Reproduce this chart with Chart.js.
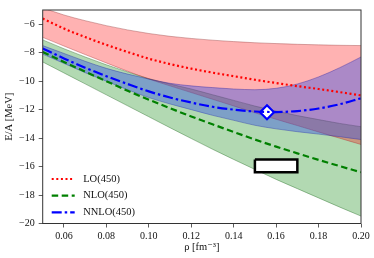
<!DOCTYPE html>
<html>
<head>
<meta charset="utf-8">
<script src="https://cdn.jsdelivr.net/npm/chart.js@4"></script>
<style>
  html, body { margin: 0; padding: 0; background: #fff; }
</style>
</head>
<body>
<canvas id="myChart" width="374" height="258"></canvas>
<script>
// density grid (fm^-3) and energies per particle (MeV)
let rho = [0.05, 0.06, 0.07, 0.08, 0.09, 0.10, 0.11, 0.12, 0.13, 0.14, 0.15, 0.16, 0.17, 0.18, 0.19, 0.20];

let loCentral = [-5.6, -6.3, -6.9, -7.45, -7.95, -8.42, -8.8, -9.12, -9.4, -9.65, -9.9, -10.13, -10.35, -10.55, -10.77, -11.0];
let loUpper = [-4.85, -5.35, -5.75, -6.1, -6.4, -6.65, -6.85, -7.0, -7.12, -7.22, -7.3, -7.36, -7.41, -7.45, -7.48, -7.5];
let loLower = [-6.92, -7.53, -8.13, -8.72, -9.3, -9.85, -10.33, -10.8, -11.27, -11.74, -12.22, -12.68, -13.12, -13.57, -14.01, -14.45];

let nloCentral = [-7.95, -8.65, -9.33, -10.0, -10.67, -11.3, -11.9, -12.48, -13.03, -13.57, -14.1, -14.6, -15.07, -15.53, -15.97, -16.4];
let nloUpper = [-7.1, -7.72, -8.3, -8.85, -9.35, -9.82, -10.2, -10.55, -10.95, -11.35, -11.75, -12.1, -12.42, -12.7, -12.97, -13.2];
let nloLower = [-8.65, -9.42, -10.19, -10.96, -11.73, -12.5, -13.27, -14.03, -14.78, -15.5, -16.2, -16.9, -17.55, -18.2, -18.85, -19.48];

let nnloCentral = [-7.7, -8.4, -9.05, -9.65, -10.2, -10.72, -11.15, -11.5, -11.8, -12.0, -12.13, -12.17, -12.1, -11.92, -11.62, -11.2];
let nnloUpper = [-7.5, -8.05, -8.6, -9.1, -9.5, -9.85, -10.15, -10.33, -10.45, -10.55, -10.6, -10.5, -10.2, -9.7, -9.05, -8.3];
let nnloLower = [-8.1, -8.75, -9.4, -10.0, -10.6, -11.15, -11.6, -12.0, -12.4, -12.75, -13.1, -13.35, -13.55, -13.72, -13.9, -14.1];

// NNLO saturation point and empirical saturation box
let satRho = [0.1557];
let satE = [-12.18];
let boxRho = [0.15, 0.17, 0.17, 0.15, 0.15];
let boxE = [-15.5, -15.5, -16.4, -16.4, -15.5];

let xTicks = [0.06, 0.08, 0.10, 0.12, 0.14, 0.16, 0.18, 0.20];
let yTicks = [-6, -8, -10, -12, -14, -16, -18, -20];

function pts(xs, ys) {
    return xs.map((x, i) => ({ x: x, y: ys[i] }));
}

let serif = "'Liberation Serif', 'DejaVu Serif', serif";
Chart.defaults.font.family = serif;
Chart.defaults.color = '#111';

let curve = {
    fill: false,
    pointRadius: 0,
    tension: 0.4,
    cubicInterpolationMode: 'monotone'
};

let datasets = [
    Object.assign({ label: 'LO(450)', data: pts(rho, loCentral), borderColor: '#ff0000', borderWidth: 2.2, borderDash: [2, 2.6] }, curve),
    Object.assign({ label: 'NLO(450)', data: pts(rho, nloCentral), borderColor: '#008000', borderWidth: 2.2, borderDash: [6.5, 3.5] }, curve),
    Object.assign({ label: 'NNLO(450)', data: pts(rho, nnloCentral), borderColor: '#0000ff', borderWidth: 2.2, borderDash: [10, 3, 2.5, 3] }, curve),
    {
        label: 'sat', data: pts(satRho, satE), showLine: false,
        pointStyle: 'rectRot', pointRadius: 7, pointBackgroundColor: '#fff',
        pointBorderColor: '#0000ff', pointBorderWidth: 2.2
    },
    {
        label: 'box', data: pts(boxRho, boxE), tension: 0, pointRadius: 0,
        fill: 'shape', backgroundColor: '#fff', borderColor: '#000', borderWidth: 2.5
    },
    // bands: upper edge fills to the lower edge listed right after it
    Object.assign({ label: 'nnloUp', data: pts(rho, nnloUpper), backgroundColor: 'rgba(45,75,230,0.4)', borderColor: 'rgba(0,0,150,0.4)', borderWidth: 0.8 }, curve, { fill: '+1' }),
    Object.assign({ label: 'nnloLo', data: pts(rho, nnloLower), borderColor: 'rgba(0,0,150,0.4)', borderWidth: 0.8 }, curve),
    Object.assign({ label: 'loUp', data: pts(rho, loUpper), backgroundColor: 'rgba(255,0,0,0.3)', borderColor: 'rgba(150,60,60,0.5)', borderWidth: 0.8 }, curve, { fill: '+1' }),
    Object.assign({ label: 'loLo', data: pts(rho, loLower), borderColor: 'rgba(150,60,60,0.5)', borderWidth: 0.8 }, curve),
    Object.assign({ label: 'nloUp', data: pts(rho, nloUpper), backgroundColor: 'rgba(0,128,0,0.3)', borderColor: 'rgba(40,100,40,0.5)', borderWidth: 0.8 }, curve, { fill: '+1' }),
    Object.assign({ label: 'nloLo', data: pts(rho, nloLower), borderColor: 'rgba(40,100,40,0.5)', borderWidth: 0.8 }, curve)
];

// full box around the plot area
let framePlugin = {
    id: 'frame',
    afterDraw(chart) {
        let a = chart.chartArea;
        let ctx = chart.ctx;
        ctx.save();
        ctx.strokeStyle = '#333';
        ctx.lineWidth = 1;
        ctx.strokeRect(a.left, a.top, a.right - a.left, a.bottom - a.top);
        ctx.restore();
    }
};

// legend inside the plot, lower left
let legendPlugin = {
    id: 'innerLegend',
    afterDraw(chart) {
        let ctx = chart.ctx;
        let a = chart.chartArea;
        ctx.save();
        for (let i = 0; i < 3; i++) {
            let ds = chart.data.datasets[i];
            let y = a.top + 169 + i * 16.7;
            ctx.beginPath();
            ctx.strokeStyle = ds.borderColor;
            ctx.lineWidth = ds.borderWidth;
            ctx.setLineDash(ds.borderDash);
            ctx.moveTo(a.left + 9, y);
            ctx.lineTo(a.left + 32, y);
            ctx.stroke();
            ctx.setLineDash([]);
            ctx.fillStyle = '#111';
            ctx.font = '10.5px ' + serif;
            ctx.textBaseline = 'middle';
            ctx.fillText(ds.label, a.left + 40.5, y);
        }
        ctx.restore();
    }
};

let myChart = new Chart(document.getElementById('myChart'), {
    type: 'line',
    data: { datasets: datasets },
    options: {
        responsive: false,
        animation: false,
        layout: { padding: { top: 5, right: 13, left: 0, bottom: 0 } },
        plugins: { legend: { display: false }, tooltip: { enabled: false } },
        scales: {
            x: {
                type: 'linear',
                min: 0.05,
                max: 0.20,
                afterBuildTicks: s => { s.ticks = xTicks.map(v => ({ value: v })); },
                afterFit: s => { s.height = 34.5; },
                ticks: { callback: v => v.toFixed(2), maxRotation: 0, autoSkip: false, font: { size: 10 }, padding: 3 },
                grid: { display: true, drawOnChartArea: false, drawTicks: true, tickLength: 4, tickColor: '#333', tickWidth: 0.8 },
                border: { display: false },
                title: { display: true, text: 'ρ [fm⁻³]', font: { size: 10.5 }, padding: { top: 2, bottom: 4 } }
            },
            y: {
                min: -20,
                max: -5,
                afterBuildTicks: s => { s.ticks = yTicks.map(v => ({ value: v })); },
                afterFit: s => { s.width = 42.7; },
                ticks: { callback: v => '\u2212' + Math.abs(v), font: { size: 10 }, padding: 4 },
                grid: { display: true, drawOnChartArea: false, drawTicks: true, tickLength: 4, tickColor: '#333', tickWidth: 0.8 },
                border: { display: false },
                title: { display: true, text: 'E/A [MeV]', font: { size: 10.5 }, padding: { top: 3, bottom: 2 } }
            }
        }
    },
    plugins: [framePlugin, legendPlugin]
});
</script>
</body>
</html>
